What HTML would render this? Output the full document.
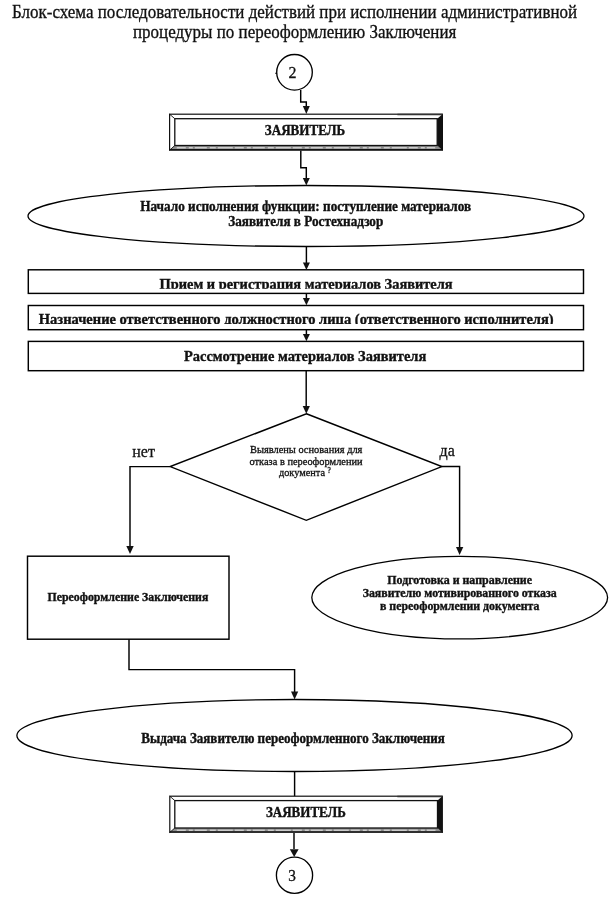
<!DOCTYPE html>
<html><head><meta charset="utf-8">
<style>
html,body{margin:0;padding:0;background:#fff;}
body{width:614px;height:900px;overflow:hidden;position:relative;}
svg{position:absolute;left:0;top:0;}
.t{font-family:"Liberation Serif",serif;fill:#111;stroke:#111;stroke-width:0.3;}
svg{will-change:transform;}
.t text{transform-box:fill-box;transform-origin:50% 85%;transform:scaleY(1.07);}
.b{stroke-width:0.35;}
.b{font-weight:bold;}
</style></head><body>
<svg width="614" height="900" viewBox="0 0 614 900">
<defs>
<clipPath id="c1"><rect x="0" y="270" width="614" height="18.8"/></clipPath>
<clipPath id="c2"><rect x="0" y="306" width="614" height="18"/></clipPath>
</defs>
<g class="t">
<text x="12" y="18" font-size="17">Блок-схема последовательности действий при исполнении административной</text>
<text x="133" y="38.5" font-size="17">процедуры по переоформлению Заключения</text>
</g>

<g fill="none" stroke="#000" stroke-width="1.45">
<!-- circle 2 -->
<circle cx="294.5" cy="72.3" r="17.8" stroke-width="1.35"/>
<line x1="275.2" y1="73.3" x2="277" y2="73.3" stroke-width="1.1"/>
<polyline points="300.7,90 300.7,102 306.3,102 306.3,107"/>
<!-- box to ellipse -->
<polyline points="300.8,150 300.8,167.8 306.3,167.8 306.3,179"/>
<!-- ellipse 1 -->
<ellipse cx="306" cy="216" rx="278" ry="30.5" stroke-width="1.3"/>
<line x1="306.4" y1="246.5" x2="306.4" y2="263"/>
<!-- rects -->
<rect x="28.3" y="269.8" width="555.2" height="23.6"/>
<line x1="306.4" y1="293.5" x2="306.4" y2="299"/>
<rect x="28.3" y="305.5" width="555.2" height="24.2"/>
<line x1="306.4" y1="329.7" x2="306.4" y2="335"/>
<rect x="28.3" y="341.4" width="555.2" height="29.3"/>
<line x1="306.2" y1="370.5" x2="306.2" y2="407"/>
<!-- diamond -->
<polygon points="306.4,413.8 441.8,466.6 306.3,520.3 170.2,466.6"/>
<polyline points="170,466.6 130,466.6 130,547"/>
<polyline points="441.5,466.4 459.6,466.4 459.6,548"/>
<!-- left rect -->
<rect x="27.5" y="556.2" width="201.5" height="83"/>
<!-- right ellipse -->
<ellipse cx="459.7" cy="597.6" rx="147.9" ry="41.3" stroke-width="1.3"/>
<polyline points="129,639.2 129,669.6 294.6,669.6 294.6,692"/>
<!-- bottom ellipse -->
<ellipse cx="294.5" cy="735.5" rx="277.6" ry="36" stroke-width="1.3"/>
<line x1="294.6" y1="771.5" x2="294.6" y2="796.5"/>
<line x1="294" y1="832.7" x2="294" y2="849"/>
<circle cx="294.5" cy="875.2" r="18.1" stroke-width="1.35"/>
</g>
<g fill="#111" stroke="none">
<polygon points="302.8,106 309.8,106 306.3,114"/>
<polygon points="302.8,178 309.8,178 306.3,185.5"/>
<polygon points="302.9,262.4 309.9,262.4 306.4,270"/>
<polygon points="302.9,298 309.9,298 306.4,305.3"/>
<polygon points="302.9,334 309.9,334 306.4,341.3"/>
<polygon points="302.7,406 309.9,406 306.3,413.8"/>
<polygon points="126.3,546 133.7,546 130,554"/>
<polygon points="456,547 463.3,547 459.6,555"/>
<polygon points="291,691.5 298.2,691.5 294.6,699.5"/>
<polygon points="289.8,849.2 298.6,849.2 294.2,857"/>
</g>

<!-- bevel boxes -->
<g id="bx1">
<rect x="169.6" y="114.2" width="272.8" height="36.0" fill="#fff" stroke="#111" stroke-width="1.2"/>
<polygon points="169.6,150.2 174.8,145.5 437.2,145.5 442.4,150.2" fill="#8c8c8c"/>
<line x1="176.8" y1="147.8" x2="435.2" y2="147.8" stroke="#e8e8e8" stroke-width="1" stroke-dasharray="9 3 4 2 12 3 6 2 15 2"/>
<line x1="169.6" y1="149.7" x2="442.4" y2="149.7" stroke="#111" stroke-width="1.2"/>
<polygon points="437.2,118.7 442.4,114.2 442.4,150.2 437.2,145.5" fill="#111"/>
<rect x="174.8" y="118.7" width="262.4" height="26.8" fill="none" stroke="#111" stroke-width="1.3"/>
<line x1="169.6" y1="114.2" x2="174.8" y2="118.7" stroke="#111" stroke-width="0.9"/>
<line x1="169.6" y1="150.2" x2="174.8" y2="145.5" stroke="#111" stroke-width="0.9"/>
<line x1="397.4" y1="114.5" x2="442.4" y2="114.5" stroke="#333" stroke-width="1.6"/>
</g>
<g id="bx2">
<rect x="169.8" y="796.2" width="272.5" height="36.2" fill="#fff" stroke="#111" stroke-width="1.2"/>
<polygon points="169.8,832.4 174.8,828 437.5,828 442.3,832.4" fill="#8c8c8c"/>
<line x1="176.8" y1="830.2" x2="435.5" y2="830.2" stroke="#e8e8e8" stroke-width="1" stroke-dasharray="9 3 4 2 12 3 6 2 15 2"/>
<line x1="169.8" y1="831.9" x2="442.3" y2="831.9" stroke="#111" stroke-width="1.2"/>
<polygon points="437.5,800.6 442.3,796.2 442.3,832.4 437.5,828" fill="#111"/>
<rect x="174.8" y="800.6" width="262.7" height="27.4" fill="none" stroke="#111" stroke-width="1.3"/>
<line x1="169.8" y1="796.2" x2="174.8" y2="800.6" stroke="#111" stroke-width="0.9"/>
<line x1="169.8" y1="832.4" x2="174.8" y2="828" stroke="#111" stroke-width="0.9"/>
<line x1="397.3" y1="796.5" x2="442.3" y2="796.5" stroke="#333" stroke-width="1.6"/>
</g>

<g class="t">
<text x="292.6" y="78" font-size="16" text-anchor="middle">2</text>
<text x="292.2" y="881" font-size="15.3" text-anchor="middle">3</text>
<text class="b" x="264.8" y="135.5" font-size="13.1">ЗАЯВИТЕЛЬ</text>
<text class="b" x="266" y="817.4" font-size="13">ЗАЯВИТЕЛЬ</text>
<text class="b" x="140.3" y="211" font-size="13.2">Начало исполнения функции: поступление материалов</text>
<text class="b" x="228.3" y="226.4" font-size="13.2">Заявителя в Ростехнадзор</text>
<g clip-path="url(#c1)"><text class="b" x="159.5" y="288.7" font-size="14.4">Прием и регистрация материалов Заявителя</text></g>
<g clip-path="url(#c2)"><text class="b" x="38.8" y="324" font-size="14.52">Назначение ответственного должностного лица (ответственного исполнителя)</text></g>
<text class="b" x="184" y="361" font-size="14.45">Рассмотрение материалов Заявителя</text>
<text x="250" y="453.2" font-size="10.4">Выявлены основания для</text>
<text x="249.5" y="464.6" font-size="10.4">отказа в переоформлении</text>
<text x="279" y="476" font-size="10.3">документа <tspan font-size="7.5" dy="-2.5">?</tspan></text>
<text x="132.3" y="456.8" font-size="16">нет</text>
<text x="439.6" y="456.4" font-size="16">да</text>
<text class="b" x="47.5" y="601.2" font-size="11.85">Переоформление Заключения</text>
<text class="b" x="387.3" y="584" font-size="11.95">Подготовка и направление</text>
<text class="b" x="362.7" y="597.2" font-size="11.85">Заявителю мотивированного отказа</text>
<text class="b" x="380" y="610.4" font-size="11.85">в переоформлении документа</text>
<text class="b" x="141.3" y="742.7" font-size="13.05">Выдача Заявителю переоформленного Заключения</text>
</g>
</svg>
</body></html>
